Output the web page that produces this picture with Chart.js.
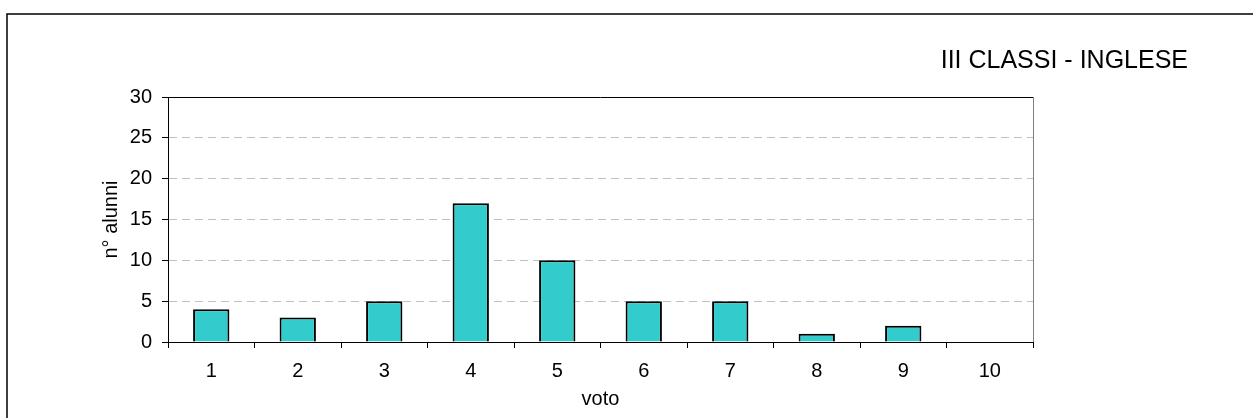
<!DOCTYPE html>
<html>
<head>
<meta charset="utf-8">
<script src="https://cdn.jsdelivr.net/npm/chart.js@4/dist/chart.umd.min.js"></script>
<style>
  html, body { margin: 0; padding: 0; background: #fff; }
  #wrap { width: 1253px; height: 418px; position: relative; }
</style>
</head>
<body>
<div id="wrap"><canvas id="myChart"></canvas></div>
<script>
// dati del grafico
var voti = ['1', '2', '3', '4', '5', '6', '7', '8', '9', '10'];
var alunni = [4, 3, 5, 17, 10, 5, 5, 1, 2, 0];
var yTicks = [0, 5, 10, 15, 20, 25, 30];
var chartTitle = 'III CLASSI - INGLESE';
var xTitle = 'voto';
var yTitle = 'n° alunni';

var fontName = "'Liberation Sans', Arial, sans-serif";

// cornice esterna, bordo area del grafico e titolo
var framePlugin = {
    id: 'frame',
    beforeDraw: function (chart) {
        var ctx = chart.ctx;
        ctx.save();
        ctx.strokeStyle = '#000';
        ctx.lineWidth = 1.5;
        ctx.beginPath();
        ctx.moveTo(7, 418);
        ctx.lineTo(7, 14);
        ctx.lineTo(1253, 14);
        ctx.stroke();
        ctx.restore();
    },
    beforeDatasetsDraw: function (chart) {
        var ctx = chart.ctx;
        var a = chart.chartArea;
        ctx.save();
        ctx.lineWidth = 1;
        ctx.strokeStyle = '#000';
        ctx.beginPath();
        ctx.moveTo(a.left, a.top + 0.5);
        ctx.lineTo(a.right, a.top + 0.5);
        ctx.stroke();
        ctx.strokeStyle = '#808080';
        ctx.beginPath();
        ctx.moveTo(a.right + 0.5, a.top);
        ctx.lineTo(a.right + 0.5, a.bottom);
        ctx.stroke();
        ctx.restore();
    },
    afterDraw: function (chart) {
        var ctx = chart.ctx;
        ctx.save();
        ctx.fillStyle = '#000';
        ctx.font = '25px ' + fontName;
        ctx.textAlign = 'right';
        ctx.textBaseline = 'middle';
        ctx.fillText(chartTitle, 1188, 61);
        ctx.restore();
    }
};

var ctx = document.getElementById('myChart').getContext('2d');
new Chart(ctx, {
    type: 'bar',
    data: {
        labels: voti,
        datasets: [{
            data: alunni,
            backgroundColor: '#33CCCC',
            borderColor: '#000',
            borderWidth: 2,
            barPercentage: 0.42,
            categoryPercentage: 1
        }]
    },
    plugins: [framePlugin],
    options: {
        responsive: true,
        maintainAspectRatio: false,
        animation: false,
        layout: { padding: { top: 97, right: 220, left: 0, bottom: 0 } },
        plugins: {
            legend: { display: false },
            tooltip: { enabled: false },
            title: { display: false }
        },
        scales: {
            x: {
                afterFit: function (s) { s.height = 76; },
                grid: {
                    offset: true,
                    drawOnChartArea: false,
                    tickLength: 6,
                    tickColor: '#000'
                },
                border: { color: '#000', width: 1 },
                ticks: {
                    color: '#000',
                    padding: 11,
                    maxRotation: 0,
                    font: { family: fontName, size: 20 }
                },
                title: {
                    display: true,
                    text: xTitle,
                    color: '#000',
                    padding: { top: 0, bottom: 7 },
                    font: { family: fontName, size: 20 }
                }
            },
            y: {
                min: 0,
                max: 30,
                afterFit: function (s) { s.width = 168; },
                afterBuildTicks: function (s) {
                    s.ticks = yTicks.map(function (v) { return { value: v }; });
                },
                grid: {
                    color: function (c) {
                        return (c.tick && (c.tick.value === 0 || c.tick.value === 30)) ? 'rgba(0,0,0,0)' : '#c0c0c0';
                    },
                    tickColor: '#000',
                    tickLength: 6,
                    tickBorderDash: []
                },
                border: { color: '#000', width: 1, dash: [8, 5] },
                ticks: {
                    color: '#000',
                    padding: 10,
                    font: { family: fontName, size: 20 }
                },
                title: {
                    display: true,
                    text: yTitle,
                    color: '#000',
                    padding: { top: 99, bottom: 0 },
                    font: { family: fontName, size: 20 }
                }
            }
        }
    }
});
</script>
</body>
</html>
